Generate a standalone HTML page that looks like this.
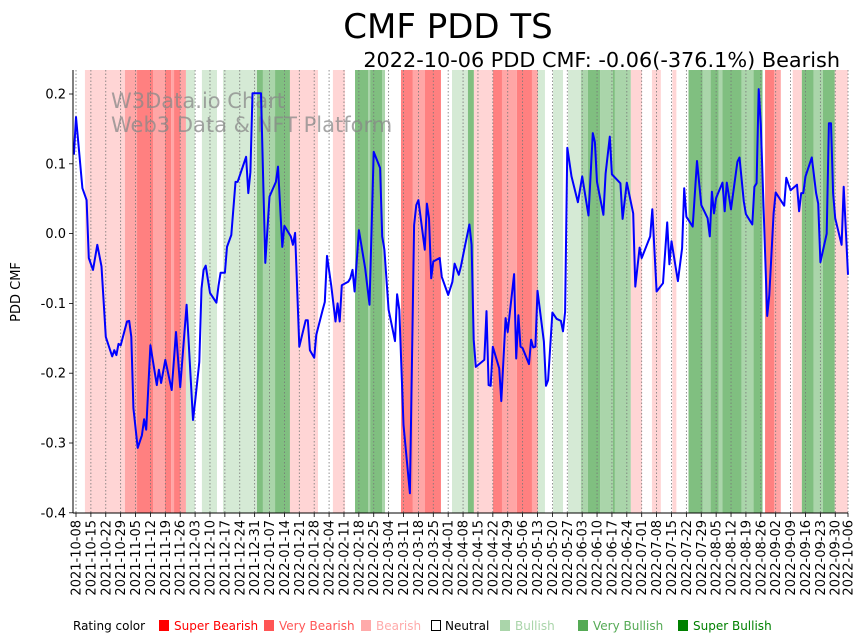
<!DOCTYPE html>
<html><head><meta charset="utf-8"><style>
body{margin:0;background:#fff;}
svg{display:block;font-family:"DejaVu Sans","Liberation Sans",sans-serif;}
</style></head><body>
<svg id="chart" width="867" height="641" viewBox="0 0 867 641">
<text x="448" y="38" font-size="34" text-anchor="middle" fill="#000">CMF PDD TS</text>
<text x="840" y="67" font-size="20.8" text-anchor="end" fill="#000">2022-10-06 PDD CMF: -0.06(-376.1%) Bearish</text>
<g id="bands"></g>
<g id="grid"></g>
<text x="111" y="108" font-size="21" fill="#888" fill-opacity="0.75">W3Data.io Chart</text>
<text x="111" y="132" font-size="21" fill="#888" fill-opacity="0.75">Web3 Data &amp; NFT Platform</text>
<path id="cmfline" fill="none" stroke="#0000ff" stroke-width="2" stroke-linejoin="round"/>
<g id="axes"></g>
<text transform="translate(20,292) rotate(-90)" font-size="13" text-anchor="middle">PDD CMF</text>
<g id="legend" font-size="12">
<text x="73" y="630">Rating color</text>
<g><rect x="159" y="620" width="10" height="11" fill="#ff0000"/><text x="174" y="630" fill="#ff0000">Super Bearish</text></g>
<g><rect x="264" y="620" width="10" height="11" fill="#ff5555"/><text x="279" y="630" fill="#ff5555">Very Bearish</text></g>
<g><rect x="361" y="620" width="10" height="11" fill="#ffaaaa"/><text x="376" y="630" fill="#ffaaaa">Bearish</text></g>
<g><rect x="431.5" y="620.5" width="9" height="10" fill="none" stroke="#000"/><text x="445" y="630" fill="#000">Neutral</text></g>
<g><rect x="500" y="620" width="10" height="11" fill="#aad5aa"/><text x="515" y="630" fill="#aad5aa">Bullish</text></g>
<g><rect x="578" y="620" width="10" height="11" fill="#55aa55"/><text x="593" y="630" fill="#55aa55">Very Bullish</text></g>
<g><rect x="678" y="620" width="10" height="11" fill="#008000"/><text x="693" y="630" fill="#008000">Super Bullish</text></g>
</g>
</svg>
<script>
// days since 2021-10-08
const lineDays=[-1,0,3,5,6,8,10,12,14,17,18,19,20,21,24,25,26,27,29,31,32,33,35,38,39,40,42,45,47,49,52,55,56,58,59,60,61,63,66,67,68,70,71,73,75,76,80,81,82,83,87,89,91,94,95,97,98,101,102,103,105,108,109,110,112,113,116,117,118,120,122,123,124,125,128,129,130,131,133,136,138,140,143,144,145,147,150,151,152,154,157,159,160,161,164,165,166,167,168,171,172,175,177,178,180,181,183,185,186,187,188,192,193,194,195,196,199,200,202,203,206,207,208,209,210,213,214,215,216,217,220,221,222,224,226,228,229,230,231,233,236,238,241,243,244,245,248,249,251,252,256,257,259,262,263,265,266,270,271,273,276,278,279,280,283,285,286,287,290,292,294,297,298,299,300,301,304,305,306,308,311,312,314,315,318,319,320,321,322,325,326,328,329,333,334,336,339,340,341,342,343,346,348,349,350,353,354,355,356,357,360,361,363];
const cmfValues=[0.113,0.167,0.065,0.048,-0.035,-0.052,-0.016,-0.047,-0.148,-0.176,-0.167,-0.174,-0.158,-0.160,-0.126,-0.125,-0.148,-0.250,-0.307,-0.289,-0.266,-0.281,-0.160,-0.217,-0.195,-0.214,-0.181,-0.224,-0.141,-0.220,-0.102,-0.267,-0.241,-0.184,-0.079,-0.052,-0.046,-0.085,-0.099,-0.075,-0.056,-0.056,-0.019,-0.002,0.074,0.074,0.110,0.058,0.088,0.201,0.201,-0.042,0.053,0.074,0.096,-0.019,0.011,-0.004,-0.016,0.001,-0.162,-0.124,-0.124,-0.167,-0.178,-0.145,-0.109,-0.098,-0.032,-0.074,-0.126,-0.100,-0.126,-0.074,-0.069,-0.064,-0.052,-0.083,0.005,-0.050,-0.102,0.117,0.094,-0.004,-0.023,-0.109,-0.154,-0.087,-0.109,-0.274,-0.372,0.012,0.041,0.048,-0.023,0.043,0.022,-0.064,-0.040,-0.035,-0.062,-0.088,-0.069,-0.043,-0.059,-0.047,-0.016,0.013,-0.016,-0.152,-0.191,-0.181,-0.111,-0.217,-0.218,-0.162,-0.193,-0.240,-0.121,-0.141,-0.058,-0.179,-0.117,-0.162,-0.164,-0.187,-0.152,-0.163,-0.162,-0.082,-0.155,-0.218,-0.210,-0.113,-0.122,-0.125,-0.140,-0.112,0.123,0.082,0.045,0.082,0.026,0.144,0.131,0.074,0.027,0.086,0.139,0.085,0.072,0.021,0.073,0.029,-0.076,-0.020,-0.035,-0.004,0.035,-0.083,-0.071,0.016,-0.044,-0.011,-0.068,-0.021,0.065,0.024,0.010,0.104,0.041,0.022,-0.004,0.060,0.029,0.051,0.073,0.032,0.073,0.035,0.103,0.109,0.046,0.028,0.013,0.067,0.072,0.207,0.156,-0.118,-0.088,0.029,0.059,0.040,0.080,0.062,0.070,0.032,0.058,0.058,0.082,0.109,0.058,0.043,-0.041,0.000,0.158,0.158,0.058,0.022,-0.016,0.067,-0.059];
const bandStart=[4.2,23.0,28.7,36.2,41.8,44.7,46.1,48.9,51.7,59.2,69.1,85.1,87.9,93.6,100.6,120.8,131.2,137.3,138.3,143.9,152.8,158.4,164.1,176.8,184.3,187.1,196.1,200.3,207.3,214.4,217.2,224.3,231.3,237.4,240.7,246.4,252.5,253.4,260.9,270.8,280.4,288.0,294.6,298.4,302.1,304.0,312.9,318.6,324.0,328.2,337.0,341.3,346.9,351.2,356.8];
const bandEnd=[23.0,28.7,36.2,41.8,44.7,46.1,48.9,51.7,55.9,66.3,85.1,87.9,93.6,100.6,113.8,126.5,137.3,138.3,143.9,145.3,158.4,164.1,171.6,184.3,187.1,196.1,200.3,207.3,214.4,217.2,220.5,229.0,237.4,240.7,246.4,252.5,253.4,260.9,266.1,275.0,282.3,294.6,298.4,302.1,304.0,312.9,318.6,322.8,328.2,331.4,341.3,346.9,351.2,356.8,362.9];
const bandLevel=[-1,-2,-3,-2,-3,-2,-3,-2,1,1,1,3,2,3,-1,-1,3,2,3,2,-3,-2,-3,1,3,-1,-3,-2,-3,-2,1,1,1,2,3,2,3,2,-1,-1,-1,3,2,3,2,3,2,3,-3,-2,-1,3,2,3,-1];
const yTicks=[0.2,0.1,0.0,-0.1,-0.2,-0.3,-0.4];
const tickDays=[];for(let k=0;k<=51;k++)tickDays.push(k*7);tickDays.push(363);

const NS="http://www.w3.org/2000/svg";
const X0=76,PXD=772/363,YT=70,YB=513;
const xs=d=>X0+d*PXD;
const ys=v=>233.6-v*698;
const bandColor={"-3":"#ff8080","-2":"#ffa6a6","-1":"#ffd5d5","1":"#d5ead5","2":"#aad5aa","3":"#80bf80"};
function mk(tag,attrs,parent){const e=document.createElementNS(NS,tag);for(const k in attrs)e.setAttribute(k,attrs[k]);parent.appendChild(e);return e;}
const bands=document.getElementById('bands');
bandStart.forEach((s,i)=>{
 const r=mk('rect',{x:xs(s),y:YT,width:xs(bandEnd[i])-xs(s),height:YB-YT,fill:bandColor[String(bandLevel[i])]},bands);
 
 
});
const grid=document.getElementById('grid'),axes=document.getElementById('axes');
function fmt(d){const t=new Date(Date.UTC(2021,9,8)+d*86400000);return t.toISOString().slice(0,10);}
tickDays.forEach(d=>{
 const x=xs(d);
 const g=mk('line',{x1:x,x2:x,y1:YT,y2:YB,stroke:'#777','stroke-width':0.8,'stroke-dasharray':'1.5,2'},grid);
 
 
 mk('line',{x1:x,x2:x,y1:YB,y2:YB+4,stroke:'#000','stroke-width':0.8},axes);
 const t=mk('text',{transform:`translate(${x+4.5},${YB+7}) rotate(-90)`,'font-size':13,'text-anchor':'end'},axes);
 t.textContent=fmt(d);
 
 
});
yTicks.forEach(v=>{
 const y=ys(v);
 mk('line',{x1:69,x2:73,y1:y,y2:y,stroke:'#000','stroke-width':0.8},axes);
 const t=mk('text',{x:66,y:y+4.5,'font-size':13,'text-anchor':'end'},axes);
 t.textContent=v.toFixed(1);
 
 
});
mk('line',{x1:73,x2:73,y1:YT,y2:YB,stroke:'#000','stroke-width':1},axes);
mk('line',{x1:73,x2:848,y1:YB,y2:YB,stroke:'#000','stroke-width':1},axes);
document.getElementById('cmfline').setAttribute('d',lineDays.map((d,i)=>(i?'L':'M')+xs(d).toFixed(1)+','+ys(cmfValues[i]).toFixed(1)).join(''));
</script>
</body></html>
